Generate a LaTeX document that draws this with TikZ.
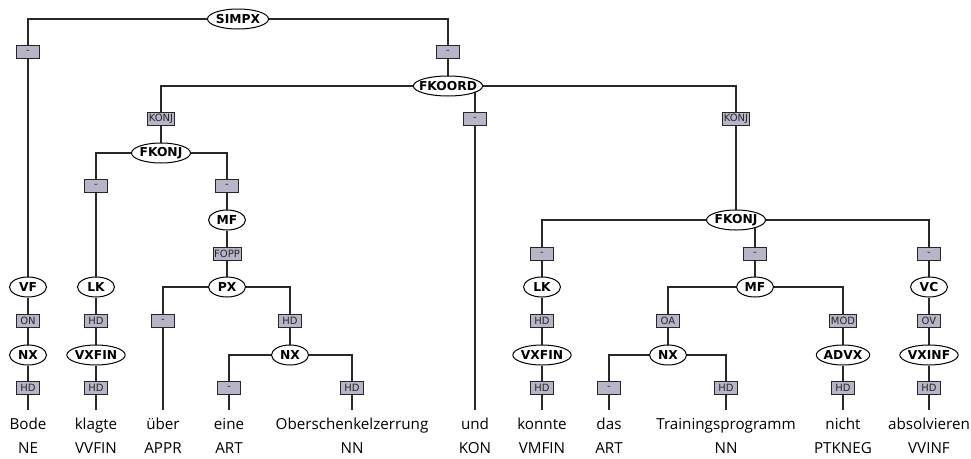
\documentclass[tikz,border=0pt]{standalone}
\usepackage{fontspec}
\setmainfont{Open Sans}
\newfontfamily\catfam{DejaVu Sans}
\usetikzlibrary{shapes.geometric}
\pgfdeclarelayer{background}
\pgfsetlayers{background,main}
\definecolor{boxfill}{RGB}{182,182,200}
\definecolor{linecol}{RGB}{40,40,40}
\tikzset{
  cat/.style={ellipse, draw=black, fill=white, line width=1pt,
    inner xsep=-0.5pt, inner ysep=1pt, minimum height=20pt, minimum width=37pt,
    font=\catfam\bfseries\fontsize{12.3}{13}\selectfont},
  fnbox/.style={rectangle, draw=black!85, fill=boxfill, line width=0.9pt,
    minimum width=23pt, minimum height=13.5pt, inner xsep=1.2pt, inner ysep=0pt,
    text=black!85, font=\catfam\fontsize{10}{10}\selectfont},
  word/.style={anchor=base, inner xsep=0pt, inner ysep=8pt, text height=10.5pt,
    font=\fontsize{15.2}{16}\selectfont},
  tag/.style={anchor=base, inner sep=0pt, font=\fontsize{15.2}{16}\selectfont},
  link/.style={draw=linecol, line width=1.6pt}
}
\begin{document}
\begin{tikzpicture}[x=1pt, y=-1pt]
\useasboundingbox (0,0) rectangle (971,458);

% ---- top levels ----
\node[cat] (simpx) at (238,19) {SIMPX};
\node[fnbox] (e1) at (28,52) {-};
\node[fnbox] (e2) at (448,52) {-};
\node[cat, inner xsep=-4.5pt] (fkoord) at (448,86) {FKOORD};
\node[fnbox] (e3) at (161,119) {KONJ};
\node[fnbox] (e4) at (475,119) {-};
\node[fnbox] (e5) at (736,119) {KONJ};

% ---- left column: Bode ----
\node[cat] (vf) at (28,287) {VF};
\node[fnbox] (e6) at (28,321) {ON};
\node[cat] (nx1) at (28,355) {NX};
\node[fnbox] (e7) at (28,388) {HD};

% ---- left conjunct ----
\node[cat] (fkonj1) at (161,153) {FKONJ};
\node[fnbox] (e8) at (96,186) {-};
\node[fnbox] (e9) at (227,186) {-};
\node[cat] (lk1) at (96,287) {LK};
\node[fnbox] (e10) at (96,321) {HD};
\node[cat] (vxfin1) at (96,355) {VXFIN};
\node[fnbox] (e11) at (96,388) {HD};
\node[cat] (mf1) at (227,220) {MF};
\node[fnbox] (e12) at (227,254) {FOPP};
\node[cat] (px) at (227,287) {PX};
\node[fnbox] (e13) at (163,321) {-};
\node[fnbox] (e14) at (290,321) {HD};
\node[cat] (nx2) at (290,355) {NX};
\node[fnbox] (e15) at (229,388) {-};
\node[fnbox] (e16) at (352,388) {HD};

% ---- right conjunct ----
\node[cat] (fkonj2) at (736,220) {FKONJ};
\node[fnbox] (e17) at (542,254) {-};
\node[fnbox] (e18) at (755,254) {-};
\node[fnbox] (e19) at (929,254) {-};
\node[cat] (lk2) at (542,287) {LK};
\node[fnbox] (e20) at (542,321) {HD};
\node[cat] (vxfin2) at (542,355) {VXFIN};
\node[fnbox] (e21) at (542,388) {HD};
\node[cat] (mf2) at (755,287) {MF};
\node[fnbox] (e22) at (668,321) {OA};
\node[fnbox] (e23) at (843,321) {MOD};
\node[cat] (nx3) at (668,355) {NX};
\node[fnbox] (e24) at (609,388) {-};
\node[fnbox] (e25) at (726,388) {HD};
\node[cat] (advx) at (843,355) {ADVX};
\node[fnbox] (e26) at (843,388) {HD};
\node[cat] (vc) at (929,287) {VC};
\node[fnbox] (e27) at (929,321) {OV};
\node[cat] (vxinf) at (929,355) {VXINF};
\node[fnbox] (e28) at (929,388) {HD};

% ---- tokens and their part-of-speech tags ----
\node[word] (w1) at (28,429) {Bode};
\node[word] (w2) at (96,429) {klagte};
\node[word] (w3) at (163,429) {über};
\node[word] (w4) at (229,429) {eine};
\node[word] (w5) at (352,429) {Oberschenkelzerrung};
\node[word] (w6) at (475,429) {und};
\node[word] (w7) at (542,429) {konnte};
\node[word] (w8) at (609,429) {das};
\node[word] (w9) at (726,429) {Trainingsprogramm};
\node[word] (w10) at (843,429) {nicht};
\node[word] (w11) at (929,429) {absolvieren};

\node[tag] (t1) at (28,453) {NE};
\node[tag] (t2) at (96,453) {VVFIN};
\node[tag] (t3) at (163,453) {APPR};
\node[tag] (t4) at (229,453) {ART};
\node[tag] (t5) at (352,453) {NN};
\node[tag] (t6) at (475,453) {KON};
\node[tag] (t7) at (542,453) {VMFIN};
\node[tag] (t8) at (609,453) {ART};
\node[tag] (t9) at (726,453) {NN};
\node[tag] (t10) at (843,453) {PTKNEG};
\node[tag] (t11) at (929,453) {VVINF};

% ---- tree edges, drawn behind the nodes ----
\begin{pgfonlayer}{background}
  % parent -> function box (elbow)
  \foreach \p/\b in {simpx/e1, simpx/e2, fkoord/e3, fkoord/e4, fkoord/e5,
      fkonj1/e8, fkonj1/e9, px/e13, px/e14, nx2/e15, nx2/e16,
      fkonj2/e17, fkonj2/e18, fkonj2/e19, mf2/e22, mf2/e23,
      nx3/e24, nx3/e25}
    \draw[link] (\p.center) -| (\b);
  % function box -> child (straight)
  \foreach \b/\c in {e1/vf, e2/fkoord, e3/fkonj1, e5/fkonj2,
      e6/nx1, e8/lk1, e9/mf1, e10/vxfin1, e12/px, e14/nx2,
      e17/lk2, e18/mf2, e19/vc, e20/vxfin2, e22/nx3, e23/advx, e27/vxinf}
    \draw[link] (\b) -- (\c);
  \foreach \c/\b in {vf/e6, nx1/e7, lk1/e10, vxfin1/e11, mf1/e12,
      lk2/e20, vxfin2/e21, vc/e27, advx/e26, vxinf/e28}
    \draw[link] (\c) -- (\b);
  % function box -> token
  \foreach \b/\w in {e7/w1, e11/w2, e13/w3, e15/w4, e16/w5, e4/w6,
      e21/w7, e24/w8, e25/w9, e26/w10, e28/w11}
    \draw[link] (\b) -- (\w);
\end{pgfonlayer}
\end{tikzpicture}
\end{document}
